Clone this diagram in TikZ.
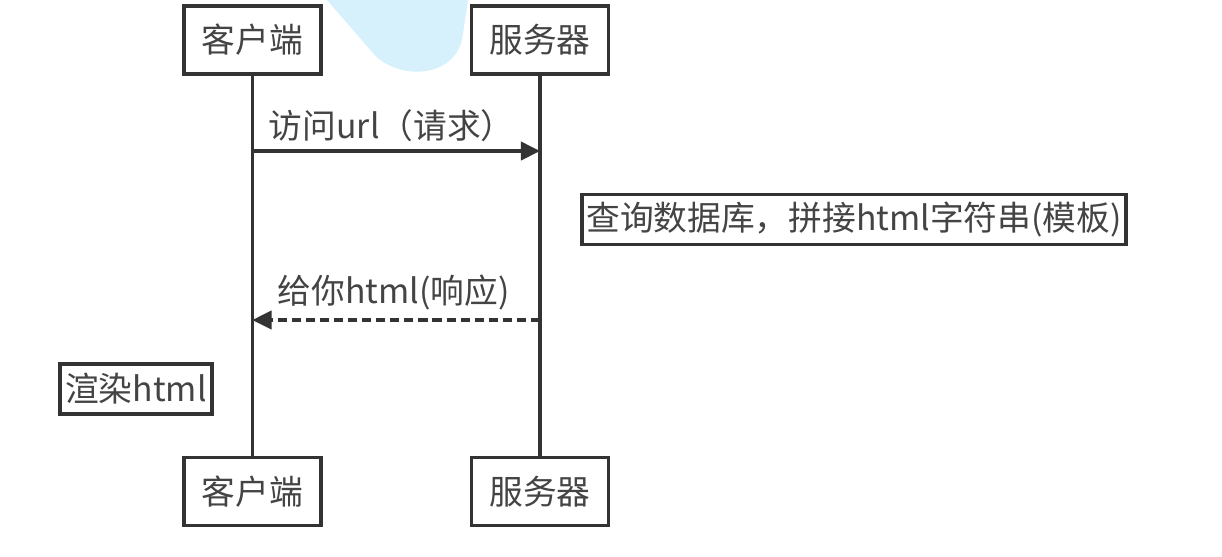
\documentclass[tikz,border=0pt]{standalone}
\usepackage{fontspec}
\setmainfont{Noto Sans CJK SC}
\usetikzlibrary{positioning,arrows.meta}
\definecolor{Ink}{HTML}{333333}
\definecolor{TextGrey}{HTML}{444444}
\definecolor{Bubble}{HTML}{D6F1FB}
\newcommand{\Label}{\fontsize{24}{29}\selectfont}
\tikzset{
  actor/.style={draw=Ink, line width=2.6pt, fill=white, minimum width=3.425cm,
                minimum height=1.7cm, inner sep=0pt, font=\Label, text=TextGrey},
  note/.style={draw=Ink, line width=2.6pt, fill=white, inner sep=0pt,
               font=\Label, text=TextGrey},
  life/.style={line width=2.6pt, Ink},
  call/.style={-{Triangle[length=4.8mm,width=4.6mm]}, line width=2.2pt, Ink},
  reply/.style={call, dash pattern=on 6.5pt off 3.5pt},
  lbl/.style={font=\Label, text=TextGrey, inner sep=0pt},
}

\begin{document}
\begin{tikzpicture}
  \useasboundingbox (0,0) rectangle (30.55,-13.9);
  % watermark blob behind the server box
  \fill[Bubble] (8.175,0) -- (9.3,-1.3) .. controls (9.875,-2.0) and (11.3,-2.0) .. (11.55,-1.0) -- (11.7,0) -- cycle;
  \node[actor] (cTop) at (6.31,-1.0) {客户端};
  \node[actor] (sTop) at (13.5,-1.0) {服务器};
  \node[actor, below=9.5cm of cTop] (cBot) {客户端};
  \node[actor, below=9.5cm of sTop] (sBot) {服务器};
  \draw[life] (cTop) -- (cBot);
  \draw[life] (sTop) -- (sBot);
  % messages
  \coordinate (cReq) at (cTop.south |- 0,-3.775);
  \coordinate (sReq) at (sTop.south |- 0,-3.775);
  \coordinate (cRes) at (cTop.south |- 0,-8.0);
  \coordinate (sRes) at (sTop.south |- 0,-8.0);
  \draw[call] (cReq) -- node[lbl, pos=0, anchor=south west, xshift=0.375cm, yshift=0.2cm]
    (reqText) {访问url（请求）} (sReq);
  \draw[reply] (sRes) -- node[lbl, pos=1, anchor=south west, xshift=0.6cm, yshift=0.2cm]
    (resText) {给你html(响应)} (cRes);
  % notes
  \node[note, minimum width=13.6cm, minimum height=1.25cm] (query) at (21.35,-5.49)
    {查询数据库，拼接html字符串(模板)};
  \node[note, minimum width=3.8cm, minimum height=1.25cm] (render) at (3.4,-9.725)
    {渲染html};
\end{tikzpicture}
\end{document}
